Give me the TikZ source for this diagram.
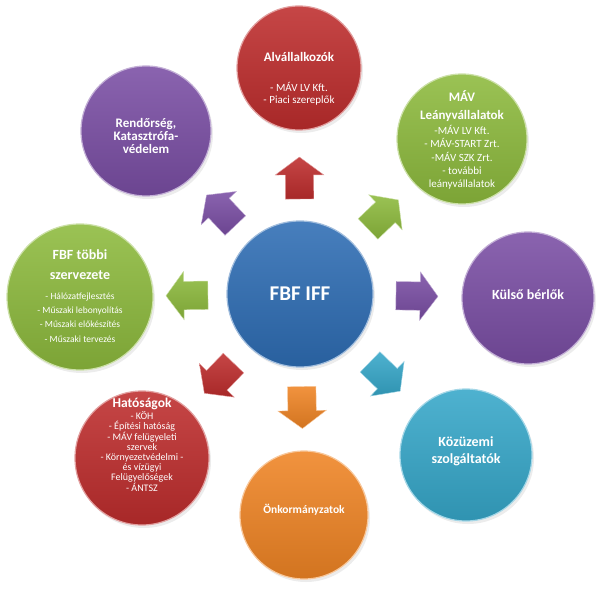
\documentclass[tikz,border=0pt]{standalone}
\usepackage{fontspec}
\setmainfont{Carlito}
\usetikzlibrary{shapes.arrows,shadows}
\definecolor{HubBlue}{HTML}{2E6DB4}
\definecolor{HubRed}{HTML}{BE2D2D}
\definecolor{HubGreen}{HTML}{8DBA3D}
\definecolor{HubPurple}{HTML}{7A4EA4}
\definecolor{HubCyan}{HTML}{36A7C9}
\definecolor{HubOrange}{HTML}{EF8424}
\newcommand{\headtxt}{\bfseries\fontsize{13}{15.5}\selectfont}
\newcommand{\itemtxt}{\mdseries\fontsize{11}{12.5}\selectfont}

\begin{document}
\begin{tikzpicture}[x=1pt,y=-1pt,
  disc/.style={circle,inner sep=0pt,minimum size=#1,line width=1.2pt,
    drop shadow={opacity=0.15,shadow xshift=2pt,shadow yshift=-3pt}},
  tone/.style={top color=#1!88!white,middle color=#1,bottom color=#1!88!black,draw=#1!45!white},
  blockarrow/.style={single arrow,single arrow head extend=10pt,single arrow tip angle=107,
    minimum height=42pt,minimum width=48pt,inner xsep=0pt,inner ysep=14pt,
    sloped,allow upside down,pos=0.49},
  txt/.style={text width=126pt,align=flush center,text=white,font=\headtxt}]
\useasboundingbox (0,0) rectangle (601,593);
% circles
\node[disc=146,tone=HubBlue] (hub) at (300,294) {};
\node[disc=124,tone=HubRed] (alv) at (299,68) {};
\node[disc=130,tone=HubGreen] (mav) at (462,139) {};
\node[disc=130,tone=HubPurple] (rend) at (146,131) {};
\node[disc=146,tone=HubGreen] (tobbi) at (80,297) {};
\node[disc=132,tone=HubPurple] (kulso) at (528,298) {};
\node[disc=134,tone=HubRed] (hat) at (142,458) {};
\node[disc=132,tone=HubCyan] (kozu) at (466,455) {};
\node[disc=128,tone=HubOrange] (onk) at (304,515) {};
% arrows out of the hub
\path (hub.center) -- node[blockarrow,tone=HubRed] (toAlv) {} (alv.center);
\path (hub.center) -- node[blockarrow,tone=HubGreen] (toMav) {} (mav.center);
\path (hub.center) -- node[blockarrow,tone=HubPurple] (toKulso) {} (kulso.center);
\path (hub.center) -- node[blockarrow,tone=HubCyan] (toKozu) {} (kozu.center);
\path (hub.center) -- node[blockarrow,tone=HubOrange] (toOnk) {} (onk.center);
\path (hub.center) -- node[blockarrow,tone=HubRed] (toHat) {} (hat.center);
\path (hub.center) -- node[blockarrow,tone=HubGreen] (toTobbi) {} (tobbi.center);
\path (hub.center) -- node[blockarrow,tone=HubPurple] (toRend) {} (rend.center);
% texts
\node[txt,font=\bfseries\fontsize{21}{24}\selectfont] (hubTxt) at (hub.center) {FBF IFF};
\node[txt] (alvTxt) at ([yshift=-11pt]alv.center) {Alvállalkozók\\[17pt]{\itemtxt - MÁV LV Kft.\\- Piaci szereplők\par}};
\node[txt] (mavTxt) at ([yshift=-1pt]mav.center) {MÁV\\[2.7pt]Leányvállalatok\\[1.7pt]{\fontsize{11}{13.3}\mdseries\selectfont -MÁV LV Kft.\\- MÁV-START Zrt.\\-MÁV SZK Zrt.\\- további\\leányvállalatok\par}};
\node[txt,font=\bfseries\fontsize{13}{13}\selectfont] (rendTxt) at ([yshift=-5pt]rend.center) {Rendőrség,\\Katasztrófa-\\védelem};
\node[txt,font=\bfseries\fontsize{14}{17}\selectfont] (tobbiTxt) at ([yshift=1pt]tobbi.center) {FBF többi\\[2.7pt]szervezete\\[5.7pt]{\mdseries\fontsize{9.5}{14.3}\selectfont - Hálózatfejlesztés\\- Műszaki lebonyolítás\\- Műszaki előkészítés\\- Műszaki tervezés\par}};
\node[txt,font=\bfseries\fontsize{14}{17}\selectfont] (kulsoTxt) at ([yshift=3pt]kulso.center) {Külső bérlők};
\node[txt,font=\bfseries\fontsize{13.5}{15}\selectfont] (hatTxt) at ([yshift=13pt]hat.center) {Hatóságok\\{\mdseries\fontsize{10}{10}\selectfont - KÖH\\- Építési hatóság\\- MÁV felügyeleti\\szervek\\- Környezetvédelmi -\\és vízügyi\\Felügyelőségek\\- ÁNTSZ\par}};
\node[txt,font=\bfseries\fontsize{14}{17}\selectfont] (kozuTxt) at ([yshift=4pt]kozu.center) {Közüzemi\\szolgáltatók};
\node[txt,font=\bfseries\fontsize{11.5}{14}\selectfont] (onkTxt) at ([yshift=5pt]onk.center) {Önkormányzatok};
\end{tikzpicture}
\end{document}
